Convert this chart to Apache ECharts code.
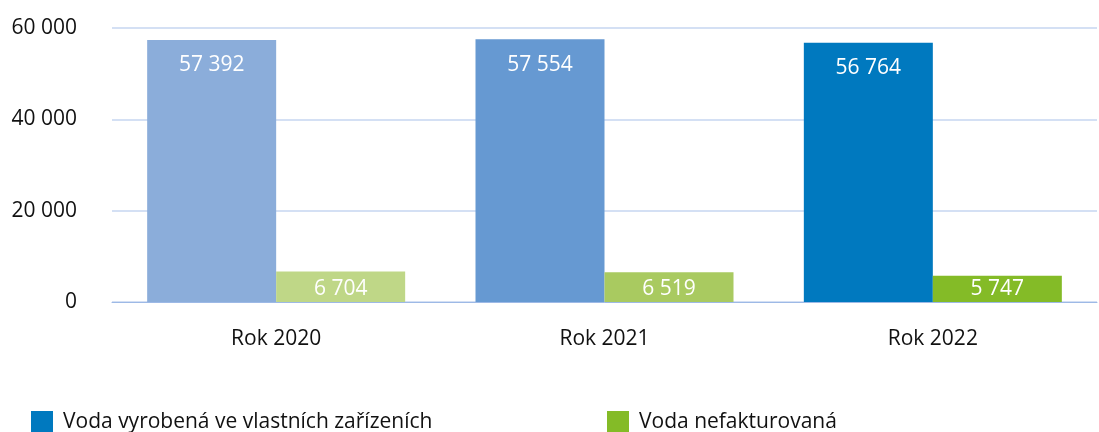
<!DOCTYPE html>
<html>
<head>
<meta charset="utf-8">
<script src="https://cdn.jsdelivr.net/npm/echarts@6/dist/echarts.min.js"></script>
<style>
  html, body { margin: 0; padding: 0; background: #fff; }
  #chart { width: 1099px; height: 432px; }
</style>
</head>
<body>
<div id="chart"></div>
<script>
// data
const years = ['Rok 2020', 'Rok 2021', 'Rok 2022']
const vyrobena = [57392, 57554, 56764]
const nefakturovana = [6704, 6519, 5747]
const yTicks = [0, 20000, 40000, 60000]

// the newest year is drawn in full colour, older years lighter
const blueShades = ['#8badda', '#6699d2', '#0079bf']
const greenShades = ['#bfd787', '#a9ca60', '#84bb27']

const font = '"Open Sans", sans-serif'
const fmt = v => String(v).replace(/\B(?=(\d{3})+(?!\d))/g, ' ')

var myChart = echarts.init(document.getElementById('chart'))
var legendText = { fontSize: 21, color: '#111', fontFamily: font, padding: [0, 0, 0, 5] }
var options = {
  animation: false,
  textStyle: { fontFamily: font },
  grid: { left: 112, right: 2, top: 28, bottom: 130 },
  legend: [
    {
      left: 26, top: 406,
      itemWidth: 22, itemHeight: 22,
      icon: 'rect',
      data: [{ name: 'Voda vyrobená ve vlastních zařízeních', itemStyle: { color: '#0079bf' } }],
      textStyle: legendText
    },
    {
      left: 602, top: 406,
      itemWidth: 22, itemHeight: 22,
      icon: 'rect',
      data: [{ name: 'Voda nefakturovaná', itemStyle: { color: '#84bb27' } }],
      textStyle: legendText
    }
  ],
  xAxis: {
    type: 'category',
    data: years,
    axisTick: { show: false },
    axisLine: { lineStyle: { color: '#9db9e6', width: 1 } },
    axisLabel: { color: '#111', fontSize: 21, margin: 27, fontFamily: font }
  },
  yAxis: {
    type: 'value',
    min: yTicks[0],
    max: yTicks[yTicks.length - 1],
    interval: 20000,
    axisLine: { show: false },
    axisTick: { show: false },
    splitLine: { lineStyle: { color: '#c6d6f0', width: 1.5 } },
    axisLabel: { color: '#111', fontSize: 21, margin: 35, formatter: fmt, fontFamily: font }
  },
  series: [
    {
      name: 'Voda vyrobená ve vlastních zařízeních',
      type: 'bar',
      barWidth: 129,
      barGap: '0%',
      itemStyle: { color: '#0079bf' },
      data: vyrobena.map((v, i) => ({ value: v, itemStyle: { color: blueShades[i] } })),
      label: {
        show: true, position: 'insideTop', distance: 15,
        color: '#fff', fontSize: 21, fontFamily: font,
        formatter: p => fmt(p.value)
      }
    },
    {
      name: 'Voda nefakturovaná',
      type: 'bar',
      barWidth: 129,
      barGap: '0%',
      itemStyle: { color: '#84bb27' },
      data: nefakturovana.map((v, i) => ({ value: v, itemStyle: { color: greenShades[i] } })),
      label: {
        show: true, position: 'insideBottom', distance: 2,
        color: '#fff', fontSize: 21, fontFamily: font,
        formatter: p => fmt(p.value)
      }
    }
  ]
}
myChart.setOption(options)
</script>
</body>
</html>
